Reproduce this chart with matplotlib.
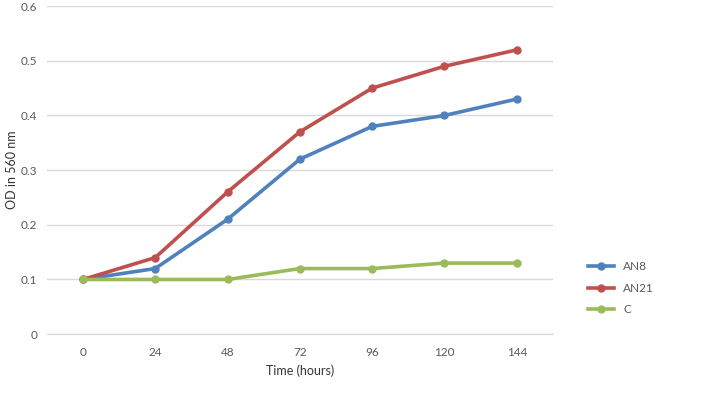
import matplotlib.pyplot as plt
import numpy as np

# data
hours = ['0', '24', '48', '72', '96', '120', '144']
an8 = [0.10, 0.12, 0.21, 0.32, 0.38, 0.40, 0.43]
an21 = [0.10, 0.14, 0.26, 0.37, 0.45, 0.49, 0.52]
ctrl = [0.10, 0.10, 0.10, 0.12, 0.12, 0.13, 0.13]

plt.rcParams['font.family'] = ['Lato', 'DejaVu Sans']

fig = plt.figure(figsize=(7.08, 4.08), dpi=100)
ax = fig.add_axes([0.066, 0.181, 0.715, 0.804])

x = np.arange(len(hours))
ax.plot(x, an8, color='#4f81bd', lw=2.6, marker='o', ms=5, label='AN8')
ax.plot(x, an21, color='#c0504d', lw=2.6, marker='o', ms=5, label='AN21')
ax.plot(x, ctrl, color='#9bbb59', lw=2.6, marker='o', ms=5, label='C')

ax.set_xlim(-0.5, len(hours) - 0.5)
ax.set_ylim(0, 0.6)
ax.set_xticks(x)
ax.set_xticklabels(hours)
ax.set_yticks(np.arange(0, 0.61, 0.1))
ax.set_yticklabels(['0', '0.1', '0.2', '0.3', '0.4', '0.5', '0.6'])
ax.grid(axis='y', color='#d9d9d9', lw=1)
ax.set_axisbelow(True)
for s in ['top', 'right', 'left']:
    ax.spines[s].set_visible(False)
ax.spines['bottom'].set_color('#d9d9d9')
ax.tick_params(axis='y', length=0, labelsize=8.5, colors='#595959', pad=7)
ax.tick_params(axis='x', length=0, labelsize=8.5, colors='#595959', pad=9)

ax.set_xlabel('Time (hours)', fontsize=9, color='#333333', labelpad=5)
ax.set_ylabel('OD in 560 nm', fontsize=9, color='#333333', labelpad=2)

ax.legend(loc='center left', bbox_to_anchor=(1.06, 0.14), frameon=False,
          borderaxespad=0, fontsize=8.5, labelcolor='#595959',
          handlelength=2.2, labelspacing=0.9)

plt.savefig('out.png')
